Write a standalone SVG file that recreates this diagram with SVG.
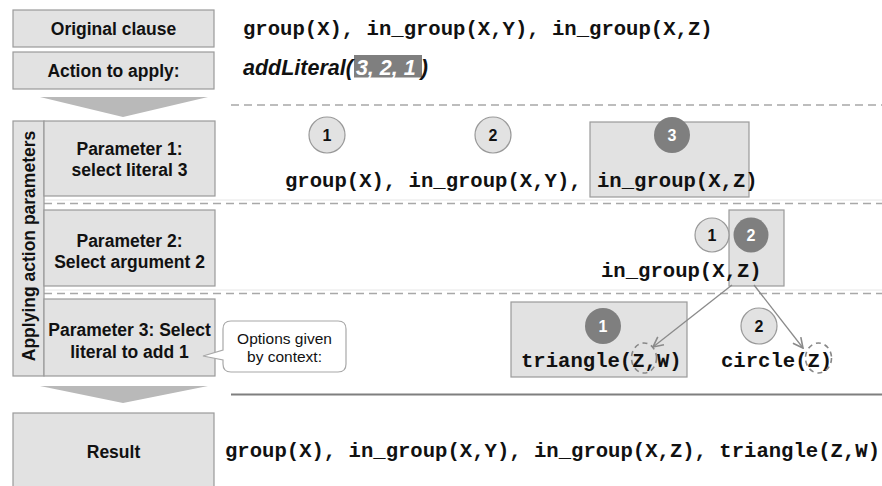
<svg xmlns="http://www.w3.org/2000/svg" width="882" height="486" viewBox="0 0 882 486">
  <style>
    .box { fill: #e2e2e2; stroke: #9a9a9a; stroke-width: 1.2; }
    .lbl { font-family: "Liberation Sans", Arial, sans-serif; font-weight: bold; font-size: 17.5px; fill: #111; text-anchor: middle; }
    .code { font-family: "Liberation Mono", "Courier New", monospace; font-weight: bold; font-size: 20.6px; fill: #111; }
    .num { font-family: "Liberation Sans", Arial, sans-serif; font-weight: bold; font-size: 16px; text-anchor: middle; }
    .cl { fill: #e2e2e2; stroke: #999; stroke-width: 1.2; }
    .cd { fill: #7f7f7f; stroke: none; }
    .dash { stroke: #a8a8a8; stroke-width: 1.6; stroke-dasharray: 8 5; fill: none; }
    .chev { fill: #b9b9b9; }
    .ring { fill: none; stroke: #888; stroke-width: 1.6; stroke-dasharray: 5 4; }
    .edge { stroke: #8a8a8a; stroke-width: 1.3; fill: none; marker-end: url(#open); }
  </style>
  <defs>
    <marker id="open" viewBox="0 0 12 12" refX="11" refY="6" markerWidth="12" markerHeight="12" markerUnits="userSpaceOnUse" orient="auto">
      <path d="M1,1 L11,6 L1,11" fill="none" stroke="#8a8a8a" stroke-width="1.6"/>
    </marker>
  </defs>

  <rect width="882" height="486" fill="#ffffff"/>

  <!-- separators -->
  <g id="separators">
    <line class="dash" x1="231" y1="105" x2="882" y2="105"/>
    <line x1="44" y1="200" x2="882" y2="200" stroke="#e6e6e6" stroke-width="1"/>
    <line class="dash" x1="44" y1="203.5" x2="882" y2="203.5"/>
    <line x1="44" y1="290" x2="882" y2="290" stroke="#e6e6e6" stroke-width="1"/>
    <line class="dash" x1="44" y1="293.5" x2="882" y2="293.5"/>
    <line x1="231" y1="394.5" x2="882" y2="394.5" stroke="#7f7f7f" stroke-width="2"/>
  </g>

  <!-- header rows -->
  <g id="original-clause">
    <rect class="box" x="13" y="10" width="201" height="37"/>
    <text class="lbl" x="113.5" y="35">Original clause</text>
    <text class="code" x="243" y="35">group(X), in_group(X,Y), in_group(X,Z)</text>
  </g>

  <g id="action">
    <rect class="box" x="13" y="52" width="201" height="37"/>
    <text class="lbl" x="113.5" y="77">Action to apply:</text>
    <rect x="354" y="55" width="68" height="22.5" fill="#7f7f7f"/>
    <text x="243" y="75" font-family="Liberation Sans, Arial, sans-serif" font-weight="bold" font-style="italic" font-size="21.5px" fill="#111">addLiteral(<tspan fill="#ffffff" dx="3">3, 2, 1</tspan><tspan dx="5">)</tspan></text>
  </g>

  <polygon class="chev" points="40,97 208,97 123,117"/>

  <!-- side bar -->
  <g id="applying">
    <rect class="box" x="13" y="121" width="31" height="255"/>
    <text class="lbl" transform="translate(35,246) rotate(-90)" x="0" y="0" font-size="17.5px">Applying action parameters</text>
  </g>

  <!-- parameter 1 -->
  <g id="param1">
    <rect class="box" x="44" y="121" width="171" height="75"/>
    <text class="lbl" x="129.5" y="154.5">Parameter 1:</text>
    <text class="lbl" x="129.5" y="176">select literal 3</text>
  </g>
  <g id="literals">
    <rect class="box" x="590" y="122" width="159" height="75"/>
    <circle class="cl" cx="327" cy="135" r="18"/>
    <text class="num" x="327" y="141" fill="#111">1</text>
    <circle class="cl" cx="493" cy="135" r="18"/>
    <text class="num" x="493" y="141" fill="#111">2</text>
    <circle class="cd" cx="672" cy="135" r="18"/>
    <text class="num" x="672" y="141" fill="#fff">3</text>
    <text class="code" x="285" y="187">group(X), in_group(X,Y),</text>
    <text class="code" x="597" y="187">in_group(X,Z)</text>
  </g>

  <!-- parameter 2 -->
  <g id="param2">
    <rect class="box" x="44" y="210" width="171" height="76"/>
    <text class="lbl" x="129.5" y="246.5">Parameter 2:</text>
    <text class="lbl" x="129.5" y="267.5">Select argument 2</text>
  </g>
  <g id="arguments">
    <rect class="box" x="729" y="210" width="55" height="76"/>
    <circle class="cl" cx="712" cy="235" r="17"/>
    <text class="num" x="712" y="241" fill="#111">1</text>
    <circle class="cd" cx="751" cy="235" r="17.5"/>
    <text class="num" x="751" y="241" fill="#fff">2</text>
    <text class="code" x="601" y="277">in_group(X,Z)</text>
  </g>

  <!-- parameter 3 -->
  <g id="param3">
    <rect class="box" x="44" y="299" width="171" height="77"/>
    <text class="lbl" x="129.5" y="335.5">Parameter 3: Select</text>
    <text class="lbl" x="129.5" y="357.5">literal to add 1</text>
  </g>
  <g id="callout">
    <path d="M231,321 H338 Q346,321 346,329 V364 Q346,372 338,372 H231 Q223,372 223,364 V360 L203,356 L223,350 V329 Q223,321 231,321 Z" fill="#ffffff" stroke="#a8a8a8" stroke-width="1.2"/>
    <text x="284.5" y="344" font-family="Liberation Sans, Arial, sans-serif" font-size="15.5px" fill="#111" text-anchor="middle">Options given</text>
    <text x="284.5" y="362" font-family="Liberation Sans, Arial, sans-serif" font-size="15.5px" fill="#111" text-anchor="middle">by context:</text>
  </g>
  <g id="option-triangle">
    <rect class="box" x="511" y="302" width="176" height="75"/>
    <circle class="cd" cx="603" cy="326" r="18"/>
    <text class="num" x="603" y="332" fill="#fff">1</text>
    <text class="code" x="521" y="367">triangle(Z,W)</text>
    <ellipse class="ring" cx="644" cy="358" rx="12.5" ry="15"/>
  </g>
  <g id="option-circle">
    <circle class="cl" cx="759" cy="326" r="18"/>
    <text class="num" x="759" y="332" fill="#111">2</text>
    <text class="code" x="721" y="367">circle(Z)</text>
    <ellipse class="ring" cx="818.5" cy="358" rx="13" ry="15"/>
  </g>

  <!-- connectors -->
  <g id="connectors">
    <line class="edge" x1="732" y1="285" x2="653" y2="347"/>
    <line class="edge" x1="754" y1="285" x2="803" y2="348"/>
  </g>

  <polygon class="chev" points="40,386 208,386 123,403"/>

  <!-- result -->
  <g id="result">
    <rect class="box" x="13" y="413" width="201" height="80"/>
    <text class="lbl" x="113.5" y="458">Result</text>
    <text class="code" x="225" y="457">group(X), in_group(X,Y), in_group(X,Z), triangle(Z,W)</text>
  </g>
</svg>
